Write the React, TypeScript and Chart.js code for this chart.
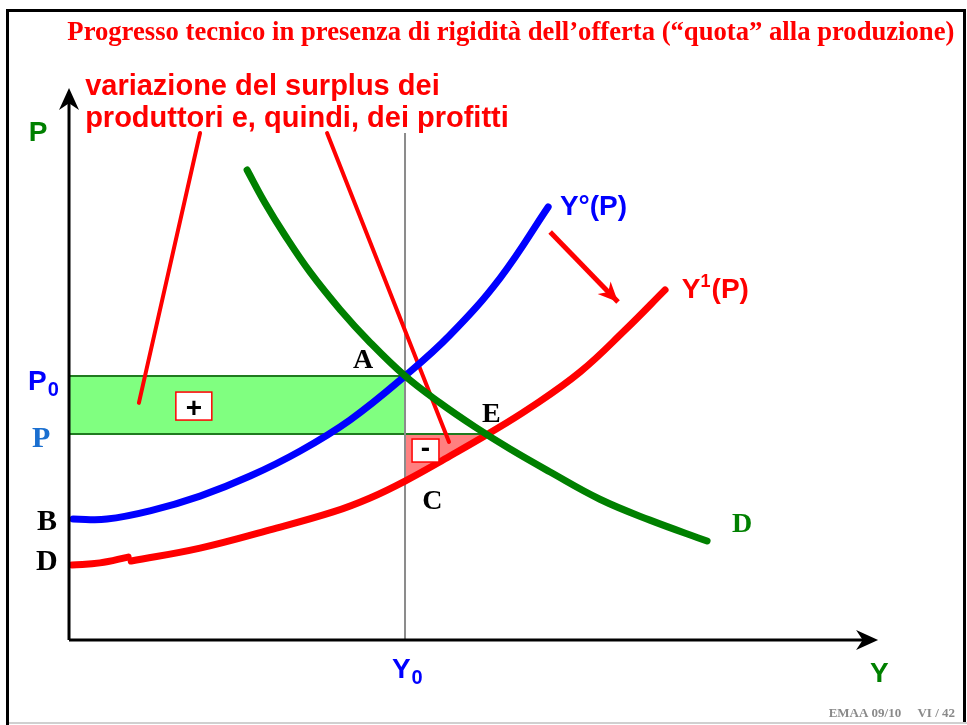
import React, { useEffect, useRef } from "react";
import { Chart, registerables } from "chart.js";

Chart.register(...registerables);

// ---- data (Y = quantity, P = price) ----
const supply0X = [0.12, 1.13, 2.41, 3.9, 5.39, 6.88, 8.36, 10.0, 11.34, 12.83, 14.26];
const supply0P = [4.58, 4.58, 4.89, 5.45, 6.21, 7.16, 8.33, 10.0, 11.55, 13.71, 16.4];

const supply1StartX = [0.09, 0.92, 1.76];
const supply1StartP = [2.84, 2.92, 3.14];
const supply1X = [1.85, 3.9, 5.98, 7.86, 8.96, 10.0, 11.34, 12.47, 13.72, 15.21, 16.55, 17.74];
const supply1P = [2.99, 3.48, 4.17, 4.85, 5.38, 6.02, 6.97, 7.8, 8.79, 10.15, 11.74, 13.26];

const demandX = [5.3, 5.83, 6.43, 7.17, 8.07, 8.96, 10.0, 11.04, 12.08, 13.13, 14.32, 15.8, 17.29, 18.99];
const demandP = [17.8, 16.56, 15.32, 13.94, 12.51, 11.27, 10.0, 8.98, 8.07, 7.23, 6.36, 5.33, 4.54, 3.75];

const Y0 = 10.0; // quota
const P0 = 10.0; // initial price
const P1 = 7.8; // new price
const YE = 12.41; // quantity at E
const lossX = [10.0, 11.34, 12.41];
const lossP = [6.02, 6.97, 7.8];

const axisXEnd = 24.08;
const axisPEnd = 20.91;
const quotaTop = 19.2;

const pointer1X = [3.9, 2.08];
const pointer1P = [19.2, 8.98];
const pointer2X = [7.68, 11.31];
const pointer2P = [19.2, 7.5];
const shiftArrowX = [14.32, 16.34];
const shiftArrowP = [15.45, 12.8];

const plusBox = [3.18, 4.25, 8.33, 9.39];
const minusBox = [10.21, 11.01, 6.74, 7.61];

const X_MIN = -2.054;
const X_MAX = 26.726;
const Y_MIN = -3.22;
const Y_MAX = 24.24;

const SANS = '"Liberation Sans", Arial, sans-serif';
const SERIF = '"Liberation Serif", "Times New Roman", serif';

type Label = {
  text: string;
  x: number;
  y: number;
  font: string;
  color: string;
  align?: CanvasTextAlign;
  maxWidth?: number;
  sub?: string;
  sup?: string;
  subFont?: string;
};

const labels: Label[] = [
  { text: "Progresso tecnico in presenza di rigidità dell\u2019offerta (\u201cquota\u201d alla produzione)", x: 13.15, y: 22.73, font: `bold 27px ${SERIF}`, color: "#ff0000", align: "center", maxWidth: 887 },
  { text: "variazione del surplus dei", x: 0.48, y: 20.64, font: `bold 29px ${SANS}`, color: "#ff0000" },
  { text: "produttori e, quindi, dei profitti", x: 0.48, y: 19.43, font: `bold 29px ${SANS}`, color: "#ff0000" },
  { text: "P", x: -0.92, y: 18.9, font: `bold 28px ${SANS}`, color: "#008000", align: "center" },
  { text: "P", x: -1.22, y: 9.47, font: `bold 28px ${SANS}`, color: "#0000ff", sub: "0", subFont: `bold 20px ${SANS}` },
  { text: "P", x: -1.1, y: 7.31, font: `bold 30px ${SERIF}`, color: "#1a6fd0" },
  { text: "B", x: -0.95, y: 4.17, font: `bold 30px ${SERIF}`, color: "#000000" },
  { text: "D", x: -0.98, y: 2.65, font: `bold 30px ${SERIF}`, color: "#000000" },
  { text: "A", x: 8.45, y: 10.3, font: `bold 28px ${SERIF}`, color: "#000000" },
  { text: "E", x: 12.29, y: 8.26, font: `bold 28px ${SERIF}`, color: "#000000" },
  { text: "C", x: 10.51, y: 4.96, font: `bold 28px ${SERIF}`, color: "#000000" },
  { text: "D", x: 19.73, y: 4.09, font: `bold 28px ${SERIF}`, color: "#008000" },
  { text: "Y\u00b0(P)", x: 14.61, y: 16.1, font: `bold 28px ${SANS}`, color: "#0000ff" },
  { text: "Y", x: 18.24, y: 12.95, font: `bold 28px ${SANS}`, color: "#ff0000", sup: "1", subFont: `bold 18px ${SANS}` },
  { text: "Y", x: 9.61, y: -1.44, font: `bold 28px ${SANS}`, color: "#0000ff", sub: "0", subFont: `bold 20px ${SANS}` },
  { text: "Y", x: 23.84, y: -1.59, font: `bold 28px ${SANS}`, color: "#008000" },
  { text: "EMAA 09/10     VI / 42", x: 26.37, y: -2.92, font: `bold 13px ${SERIF}`, color: "#8a8a8a", align: "right" },
];

const pts = (xs: number[], ys: number[]) => xs.map((x, i) => ({ x, y: ys[i] }));

function drawArrowHead(ctx: CanvasRenderingContext2D, fx: number, fy: number, tx: number, ty: number, len: number, half: number, color: string) {
  const a = Math.atan2(ty - fy, tx - fx);
  const c = Math.cos(a), s = Math.sin(a);
  const bx = tx - c * len, by = ty - s * len;
  const nx = tx - c * len * 0.7, ny = ty - s * len * 0.7;
  ctx.save();
  ctx.fillStyle = color;
  ctx.beginPath();
  ctx.moveTo(tx, ty);
  ctx.lineTo(bx - s * half, by + c * half);
  ctx.lineTo(nx, ny);
  ctx.lineTo(bx + s * half, by - c * half);
  ctx.closePath();
  ctx.fill();
  ctx.restore();
}

const overlayPlugin = {
  id: "overlay",
  afterDatasetsDraw(chart: any) {
    const ctx: CanvasRenderingContext2D = chart.ctx;
    const sx = chart.scales.x;
    const sy = chart.scales.y;
    const X = (v: number) => sx.getPixelForValue(v);
    const Y = (v: number) => sy.getPixelForValue(v);

    drawArrowHead(ctx, X(0), Y(0), X(0), Y(axisPEnd), 22, 10, "#000");
    drawArrowHead(ctx, X(0), Y(0), X(axisXEnd), Y(0), 22, 10, "#000");
    drawArrowHead(ctx, X(shiftArrowX[0]), Y(shiftArrowP[0]), X(shiftArrowX[1]), Y(shiftArrowP[1]), 20, 9, "#ff0000");

    const box = (b: number[], sym: string, dy: number) => {
      const x1 = X(b[0]), x2 = X(b[1]), y1 = Y(b[3]), y2 = Y(b[2]);
      ctx.save();
      ctx.fillStyle = "#ffffff";
      ctx.fillRect(x1, y1, x2 - x1, y2 - y1);
      ctx.strokeStyle = "#ff0000";
      ctx.lineWidth = 1.5;
      ctx.strokeRect(x1, y1, x2 - x1, y2 - y1);
      ctx.fillStyle = "#000";
      ctx.font = `bold 28px ${SANS}`;
      ctx.textAlign = "center";
      ctx.textBaseline = "middle";
      ctx.fillText(sym, (x1 + x2) / 2, (y1 + y2) / 2 + dy);
      ctx.restore();
    };
    box(plusBox, "+", 3);
    box(minusBox, "-", -1);

    for (const l of labels) {
      ctx.save();
      ctx.font = l.font;
      ctx.fillStyle = l.color;
      ctx.textAlign = l.align || "left";
      ctx.textBaseline = "alphabetic";
      const px = X(l.x), py = Y(l.y);
      if (l.maxWidth) ctx.fillText(l.text, px, py, l.maxWidth);
      else ctx.fillText(l.text, px, py);
      const w = ctx.measureText(l.text).width;
      if (l.sub) {
        ctx.font = l.subFont!;
        ctx.textAlign = "left";
        ctx.fillText(l.sub, px + w + 1, py + 6);
      }
      if (l.sup) {
        ctx.font = l.subFont!;
        ctx.textAlign = "left";
        ctx.fillText(l.sup, px + w, py - 11);
        const sw = ctx.measureText(l.sup).width;
        ctx.font = l.font;
        ctx.fillText("(P)", px + w + sw + 1, py);
      }
      ctx.restore();
    }

    ctx.save();
    ctx.strokeStyle = "#000";
    ctx.lineWidth = 3;
    ctx.beginPath();
    ctx.moveTo(7.5, 725);
    ctx.lineTo(7.5, 10.5);
    ctx.lineTo(964.5, 10.5);
    ctx.lineTo(964.5, 722);
    ctx.stroke();
    ctx.strokeStyle = "#d0d0d0";
    ctx.lineWidth = 2;
    ctx.beginPath();
    ctx.moveTo(9, 723);
    ctx.lineTo(967, 723);
    ctx.stroke();
    ctx.restore();
  },
};

export default function App() {
  const ref = useRef<HTMLCanvasElement | null>(null);

  useEffect(() => {
    if (!ref.current) return;
    const line = (data: any[], color: string, width: number, order: number, extra: any = {}) => ({
      data,
      borderColor: color,
      backgroundColor: color,
      borderWidth: width,
      pointRadius: 0,
      showLine: true,
      fill: false,
      order,
      tension: 0,
      borderCapStyle: "round",
      ...extra,
    });

    const chart = new Chart(ref.current, {
      type: "scatter",
      data: {
        datasets: [
          line(pts([0, Y0], [P0, P0]), "rgba(0,0,0,0)", 0, 30, { fill: { value: P1 }, backgroundColor: "#80ff80" }),
          line(pts(lossX, lossP), "rgba(0,0,0,0)", 0, 29, { fill: { value: P1 }, backgroundColor: "#ff8080", tension: 0.4 }),
          line(pts([0, Y0], [P0, P0]), "#1f7a1f", 2, 25, { borderCapStyle: "butt" }),
          line(pts([0, YE], [P1, P1]), "#1f7a1f", 2, 25, { borderCapStyle: "butt" }),
          line(pts([Y0, Y0], [0, quotaTop]), "#8c8c8c", 2, 24, { borderCapStyle: "butt" }),
          line(pts(pointer1X, pointer1P), "#ff0000", 4, 20),
          line(pts(pointer2X, pointer2P), "#ff0000", 4, 20),
          line(pts(supply1StartX, supply1StartP), "#ff0000", 7, 12, { tension: 0.4 }),
          line(pts(supply1X, supply1P), "#ff0000", 7, 12, { tension: 0.4 }),
          line(pts(supply0X, supply0P), "#0000ff", 7, 11, { tension: 0.4 }),
          line(pts(demandX, demandP), "#008000", 7, 10, { tension: 0.4 }),
          line(pts(shiftArrowX, shiftArrowP), "#ff0000", 5, 5, { borderCapStyle: "butt" }),
          line(pts([0, axisXEnd - 0.3], [0, 0]), "#000000", 3, 2, { borderCapStyle: "butt" }),
          line(pts([0, 0], [0, axisPEnd - 0.3]), "#000000", 3, 2, { borderCapStyle: "butt" }),
        ],
      },
      options: {
        animation: false,
        responsive: false,
        devicePixelRatio: 1,
        layout: { padding: 0 },
        plugins: { legend: { display: false }, tooltip: { enabled: false }, title: { display: false } },
        events: [],
        scales: {
          x: { type: "linear", min: X_MIN, max: X_MAX, display: false },
          y: { type: "linear", min: Y_MIN, max: Y_MAX, display: false },
        },
      },
      plugins: [overlayPlugin],
    } as any);
    return () => chart.destroy();
  }, []);

  return (
    <div style={{ position: "absolute", left: 0, top: 0, width: 967, height: 725, background: "#fff" }}>
      <canvas ref={ref} width={967} height={725} style={{ width: 967, height: 725, display: "block" }} />
    </div>
  );
}
